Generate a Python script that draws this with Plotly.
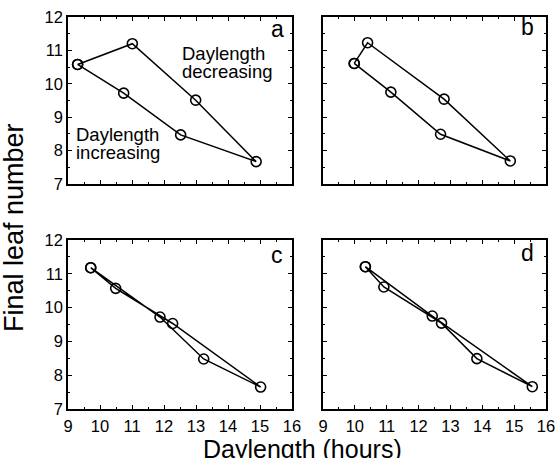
import plotly.graph_objects as go

# ---- data ----
a_x = [9.30, 10.74, 12.52, 14.88, 12.99, 11.01]
a_y = [10.58, 9.72, 8.47, 7.67, 9.51, 11.20]
b_x = [9.98, 11.13, 12.69, 14.88, 12.80, 10.40]
b_y = [10.61, 9.75, 8.49, 7.69, 9.54, 11.23]
c_x = [9.71, 11.875, 13.24, 15.02, 12.27, 10.49]
c_y = [11.18, 9.72, 8.48, 7.65, 9.53, 10.57]
d_x = [10.33, 10.91, 12.72, 13.83, 15.57, 12.43]
d_y = [11.21, 10.61, 9.54, 8.49, 7.66, 9.75]

panel_letters = ["a", "b", "c", "d"]
x_ticks = [9, 10, 11, 12, 13, 14, 15, 16]
y_ticks = [7, 8, 9, 10, 11, 12]
x_title = "Daylength (hours)"
y_title = "Final leaf number"

W, H = 556, 458
FONT = "Liberation Sans, Arial, Helvetica, sans-serif"


def px(x):
    return x / W


def py(y):
    return 1 - y / H


fig = go.Figure()

series = [(a_x, a_y), (b_x, b_y), (c_x, c_y), (d_x, d_y)]
for i, (xs, ys) in enumerate(series):
    ax = "" if i == 0 else str(i + 1)
    fig.add_trace(go.Scatter(
        x=list(xs) + [xs[0]], y=list(ys) + [ys[0]],
        mode="lines+markers",
        line=dict(color="black", width=1.5),
        marker=dict(symbol="circle-open", size=10, color="black",
                    line=dict(width=1.6, color="black")),
        xaxis="x" + ax, yaxis="y" + ax, showlegend=False,
    ))

# panel pixel boxes: (left, right, top, bottom)
boxes = [(68, 292, 17, 184), (323, 546, 17, 184),
         (68, 292, 240, 409), (323, 546, 240, 409)]

layout = dict(
    template="none",
    width=W, height=H,
    margin=dict(l=0, r=0, t=0, b=0, autoexpand=False),
    paper_bgcolor="white", plot_bgcolor="white",
    font=dict(family=FONT, color="black", size=16),
)
TICKFONT = dict(size=16.5, family=FONT, color="black")
for i, (l, r, t, b) in enumerate(boxes):
    ax = "" if i == 0 else str(i + 1)
    bottom_row = i >= 2
    left_col = i % 2 == 0
    common = dict(
        automargin=False, ticklabeloverflow="allow",
        ticks="inside", ticklen=4, tickwidth=1, tickcolor="black",
        minor=dict(dtick=0.5, ticks="inside", ticklen=2.5, tickcolor="black"),
        showline=True, linecolor="black", linewidth=1.5, mirror="ticks",
        showgrid=False, zeroline=False, tickfont=TICKFONT,
    )
    layout["xaxis" + ax] = dict(
        domain=[px(l), px(r)], range=[9, 16], anchor="y" + ax,
        tickvals=x_ticks, showticklabels=bottom_row, ticklabelstandoff=1,
        **common)
    layout["yaxis" + ax] = dict(
        domain=[py(b), py(t)], range=[7, 12], anchor="x" + ax,
        tickvals=y_ticks, showticklabels=left_col, **common)
fig.update_layout(**layout)

ann = []
letter_pos = [(277, 29), (527, 27), (277, 255), (527, 253)]
for letter, (lx, ly) in zip(panel_letters, letter_pos):
    ann.append(dict(text=letter, x=px(lx), y=py(ly), xref="paper", yref="paper",
                    xanchor="center", yanchor="middle", showarrow=False,
                    font=dict(size=23, family=FONT, color="black")))

# in-panel labels (panel a)
for txt, x, y in [("Daylength", 12.5, 10.92), ("decreasing", 12.5, 10.38),
                  ("Daylength", 9.19, 8.47), ("increasing", 9.19, 7.93)]:
    ann.append(dict(text=txt, x=x, y=y, xref="x", yref="y", xanchor="left",
                    yanchor="middle", showarrow=False,
                    font=dict(size=18.5, family=FONT, color="black")))

ann.append(dict(text=y_title, x=px(14), y=py(228), xref="paper", yref="paper",
                xanchor="center", yanchor="middle", textangle=-90, showarrow=False,
                font=dict(size=27, family=FONT, color="black")))
ann.append(dict(text=x_title, x=px(302), y=py(448.5), xref="paper", yref="paper",
                xanchor="center", yanchor="middle", showarrow=False,
                font=dict(size=25, family=FONT, color="black")))
fig.update_layout(annotations=ann)

fig.write_html("out.html",
               config={"displayModeBar": False},
               post_script="document.body.style.margin='0';"
                           "document.body.style.overflow='hidden';")
